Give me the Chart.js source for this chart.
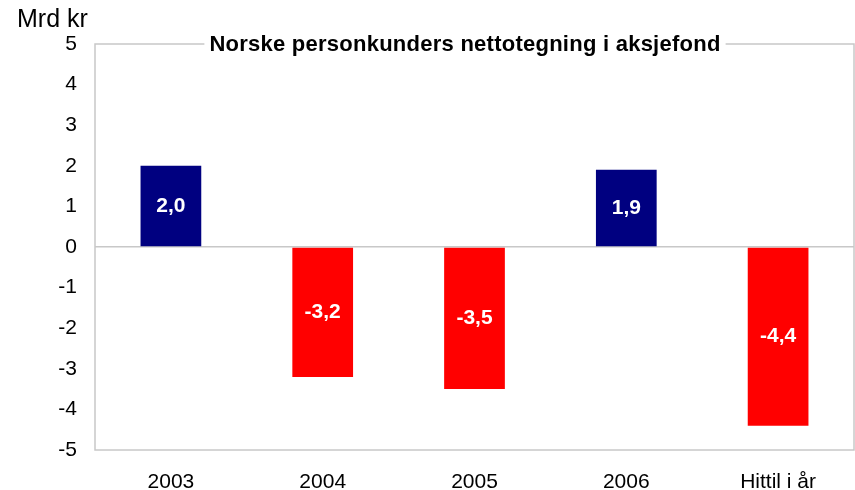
<!DOCTYPE html>
<html>
<head>
<meta charset="utf-8">
<script src="https://cdn.jsdelivr.net/npm/chart.js@4/dist/chart.umd.min.js"></script>
<style>
html,body{margin:0;padding:0;background:#fff;}
#wrap{width:855px;height:490px;position:relative;}
</style>
</head>
<body>
<div id="wrap"><canvas id="c" width="855" height="490"></canvas></div>
<script>
const categories = ["2003", "2004", "2005", "2006", "Hittil i år"];
const values = [2.0, -3.2, -3.5, 1.9, -4.4];
const yTicks = [5, 4, 3, 2, 1, 0, -1, -2, -3, -4, -5];
const titleText = "Norske personkunders nettotegning i aksjefond";
const unitText = "Mrd kr";

const FONT = "'Liberation Sans', Arial, sans-serif";

const framePlugin = {
  id: 'frame',
  beforeDatasetsDraw(chart) {
    const {ctx, chartArea: a} = chart;
    ctx.save();
    ctx.strokeStyle = '#c8c8c8';
    ctx.lineWidth = 1.5;
    ctx.strokeRect(a.left, a.top, a.right - a.left, a.bottom - a.top);
    ctx.restore();
  },
  afterDraw(chart) {
    const {ctx, chartArea: a} = chart;
    ctx.save();
    ctx.font = "bold 22px " + FONT;
    try { ctx.letterSpacing = '0.25px'; } catch (e) {}
    ctx.textAlign = 'center';
    ctx.textBaseline = 'alphabetic';
    const cx = 465;
    const w = ctx.measureText(titleText).width;
    ctx.fillStyle = '#fff';
    ctx.fillRect(cx - w / 2 - 5, a.top - 3, w + 10, 6);
    ctx.fillStyle = '#000';
    ctx.fillText(titleText, cx, a.top + 7);
    try { ctx.letterSpacing = '0px'; } catch (e) {}
    ctx.font = "25px " + FONT;
    ctx.textAlign = 'left';
    ctx.fillText(unitText, 17, 27);
    // value labels
    const meta = chart.getDatasetMeta(0);
    ctx.font = "bold 21px " + FONT;
    ctx.fillStyle = '#fff';
    ctx.textAlign = 'center';
    ctx.textBaseline = 'middle';
    meta.data.forEach((bar, i) => {
      const v = values[i];
      const y = (bar.y + bar.base) / 2;
      ctx.fillText(v.toFixed(1).replace('.', ','), bar.x, y);
    });
    ctx.restore();
  }
};

new Chart(document.getElementById('c'), {
  type: 'bar',
  data: {
    labels: categories,
    datasets: [{
      data: values,
      backgroundColor: values.map(v => v >= 0 ? '#000080' : '#ff0000'),
      borderWidth: 0,
      barPercentage: 0.4,
      categoryPercentage: 1.0
    }]
  },
  options: {
    responsive: false,
    animation: false,
    layout: {padding: {top: 44, right: 1, left: 0, bottom: 0}},
    plugins: {legend: {display: false}, tooltip: {enabled: false}, title: {display: false}},
    scales: {
      x: {
        grid: {display: false, drawTicks: false},
        border: {display: false},
        ticks: {color: '#000', font: {family: FONT, size: 21}, padding: 20, maxRotation: 0},
        afterFit(s) { s.height = 40; }
      },
      y: {
        min: -5, max: 5,
        afterBuildTicks(s) { s.ticks = yTicks.map(v => ({value: v})); },
        grid: {
          drawTicks: false,
          color: ctx => (ctx.tick && ctx.tick.value === 0) ? '#c8c8c8' : 'rgba(0,0,0,0)',
          lineWidth: 1.5
        },
        border: {display: false},
        ticks: {color: '#000', font: {family: FONT, size: 21}, padding: 18},
        afterFit(s) { s.width = 95; }
      }
    }
  },
  plugins: [framePlugin]
});
</script>
</body>
</html>
